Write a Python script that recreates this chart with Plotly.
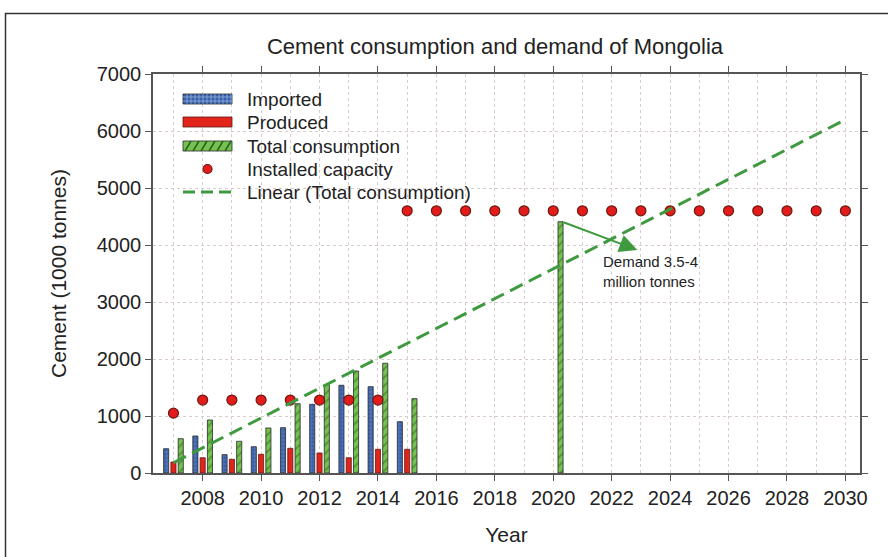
import plotly.graph_objects as go

# ---- data ----
years_hist = [2007, 2008, 2009, 2010, 2011, 2012, 2013, 2014, 2015]
imported = [426, 649, 322, 461, 795, 1205, 1539, 1514, 900]
produced = [193, 268, 240, 328, 433, 351, 268, 416, 416]
total_years = [2007, 2008, 2009, 2010, 2011, 2012, 2013, 2014, 2015, 2020]
total_consumption = [602, 930, 556, 790, 1216, 1549, 1789, 1925, 1304, 4409]
capacity_years = list(range(2007, 2031))
capacity = [1050, 1280, 1280, 1280, 1280, 1280, 1280, 1280] + [4600] * 16
trend_years = [2007, 2030]
trend_values = [180, 6200]
x_tick_vals = list(range(2008, 2031, 2))
y_tick_vals = [0, 1000, 2000, 3000, 4000, 5000, 6000, 7000]
legend_labels = ["Imported", "Produced", "Total consumption",
                 "Installed capacity", "Linear (Total consumption)"]

FONT = "Liberation Sans, Arial, sans-serif"
GREEN_LINE = "#3f9a3f"
BLUE = "#3a5fa8"
RED = "#e3241b"
GREEN = "#74c24f"

# layout geometry (pixels)
L, R, T, B = 153, 28, 74, 84
W, H = 888, 557
PW, PH = W - L - R, H - T - B


def px(xpix):
    return (xpix - L) / PW


def py(ypix):
    return (H - B - ypix) / PH


fig = go.Figure()
fig.add_trace(go.Bar(
    x=years_hist, y=imported, name=legend_labels[0],
    marker=dict(color=BLUE, line=dict(color="#2a2a2a", width=0.8),
                pattern=dict(shape="+", size=4, solidity=0.25,
                             fgcolor="#8fb0e0", bgcolor=BLUE)),
))
fig.add_trace(go.Bar(
    x=years_hist, y=produced, name=legend_labels[1],
    marker=dict(color=RED, line=dict(color="#5a1a14", width=0.8)),
))
fig.add_trace(go.Bar(
    x=total_years, y=total_consumption, name=legend_labels[2],
    marker=dict(color=GREEN, line=dict(color="#2a2a2a", width=0.8),
                pattern=dict(shape="/", size=6, solidity=0.3,
                             fgcolor="#2d5e22", bgcolor=GREEN)),
))
fig.add_trace(go.Scatter(
    x=capacity_years, y=capacity, name=legend_labels[3], mode="markers",
    marker=dict(color="#e31b1b", size=10, line=dict(color="#6b1a10", width=1.2)),
))
fig.add_trace(go.Scatter(
    x=trend_years, y=trend_values, name=legend_labels[4], mode="lines",
    line=dict(color=GREEN_LINE, width=3, dash="14px,7px"),
))

# annotation arrow (tail at top of 2020 bar) and text
fig.add_annotation(
    x=2022.88, y=3912, ax=total_years[-1] + 0.3, ay=total_consumption[-1],
    xref="x", yref="y", axref="x", ayref="y",
    text="", showarrow=True, arrowhead=2, arrowsize=1.8, arrowwidth=2,
    arrowcolor=GREEN_LINE,
)
fig.add_annotation(
    x=2021.65, y=3540, xref="x", yref="y", xanchor="left", yanchor="middle",
    text="Demand 3.5-4<br>million tonnes", showarrow=False, align="left",
    font=dict(family=FONT, size=15, color="#222"),
)

# custom legend (wide swatches as in the original)
rows = [99, 122, 146, 169, 192]
sx0, sx1 = 183, 232
shapes = []
# imported swatch
shapes.append(dict(type="rect", xref="paper", yref="paper",
                   x0=px(sx0), x1=px(sx1), y0=py(rows[0] + 5), y1=py(rows[0] - 5),
                   fillcolor=BLUE, line=dict(color="#2a2a2a", width=0.8)))
grid_path = ""
for gx in range(sx0 + 4, sx1, 4):
    grid_path += f"M{px(gx)},{py(rows[0] + 5)}L{px(gx)},{py(rows[0] - 5)}"
for gy in (rows[0] - 2, rows[0] + 2):
    grid_path += f"M{px(sx0)},{py(gy)}L{px(sx1)},{py(gy)}"
shapes.append(dict(type="path", xref="paper", yref="paper", path=grid_path,
                   line=dict(color="#8fb0e0", width=0.8)))
# produced swatch
shapes.append(dict(type="rect", xref="paper", yref="paper",
                   x0=px(sx0), x1=px(sx1), y0=py(rows[1] + 5), y1=py(rows[1] - 5),
                   fillcolor=RED, line=dict(color="#5a1a14", width=0.8)))
# total consumption swatch
shapes.append(dict(type="rect", xref="paper", yref="paper",
                   x0=px(sx0), x1=px(sx1), y0=py(rows[2] + 5), y1=py(rows[2] - 5),
                   fillcolor=GREEN, line=dict(color="#2a2a2a", width=0.8)))
hatch = ""
for hx in range(sx0 + 2, sx1 - 4, 8):
    hatch += f"M{px(hx)},{py(rows[2] + 5)}L{px(hx + 6)},{py(rows[2] - 5)}"
shapes.append(dict(type="path", xref="paper", yref="paper", path=hatch,
                   line=dict(color="#2d5e22", width=1.5)))
# capacity dot
shapes.append(dict(type="circle", xref="paper", yref="paper",
                   x0=px(203), x1=px(212), y0=py(rows[3] + 4.5), y1=py(rows[3] - 4.5),
                   fillcolor="#e31b1b", line=dict(color="#6b1a10", width=1.2)))
# trend dashed line
shapes.append(dict(type="line", xref="paper", yref="paper",
                   x0=px(sx0), x1=px(sx1), y0=py(rows[4]), y1=py(rows[4]),
                   line=dict(color=GREEN_LINE, width=3, dash="12px,6px")))
for lab, ry in zip(legend_labels, rows):
    fig.add_annotation(x=px(245), y=py(ry), xref="paper", yref="paper",
                       xanchor="left", yanchor="middle", text=lab, showarrow=False,
                       font=dict(family=FONT, size=19, color="#222"))

# outer frame
shapes.append(dict(type="rect", xref="paper", yref="paper",
                   x0=px(5.5), x1=1.3, y0=-0.4, y1=py(13.5),
                   line=dict(color="#333", width=1.5), fillcolor="rgba(0,0,0,0)",
                   layer="below"))

grid = dict(showgrid=True, gridcolor="#d8cccc", griddash="dot", gridwidth=1)
fig.update_layout(
    width=W, height=H,
    margin=dict(l=L, r=R, t=T, b=B),
    paper_bgcolor="white", plot_bgcolor="white",
    font=dict(family=FONT, color="#222"),
    title=dict(text="Cement consumption and demand of Mongolia",
               x=495 / W, xref="container", xanchor="center",
               y=1 - 46 / H, yref="container", yanchor="middle",
               font=dict(family=FONT, size=22, color="#222")),
    barmode="group", bargap=0.25, bargroupgap=0.3,
    showlegend=False,
    shapes=shapes,
    xaxis=dict(range=[2006.3, 2030.5], tickmode="array", tickvals=x_tick_vals,
               ticks="outside", ticklen=6, tickcolor="#555",
               showline=True, linecolor="#555", linewidth=1.5, mirror="ticks",
               tickfont=dict(family=FONT, size=20, color="#222"),
               title=dict(text="Year", font=dict(family=FONT, size=21, color="#222"), standoff=20),
               zeroline=False, **grid,
               minor=dict(dtick=1, tick0=2007, showgrid=True, gridcolor="#d8cccc",
                          griddash="dot", ticks="")),
    yaxis=dict(range=[0, 7000], tickmode="array", tickvals=y_tick_vals,
               ticks="outside", ticklen=6, tickcolor="#555",
               showline=True, linecolor="#555", linewidth=1.5, mirror="ticks",
               tickfont=dict(family=FONT, size=20, color="#222"),
               title=dict(text="Cement (1000 tonnes)", font=dict(family=FONT, size=21, color="#222"), standoff=24),
               zeroline=False, **grid),
)

fig.write_html("out.html", config={"displayModeBar": False},
               post_script="document.body.style.margin='0px';")
